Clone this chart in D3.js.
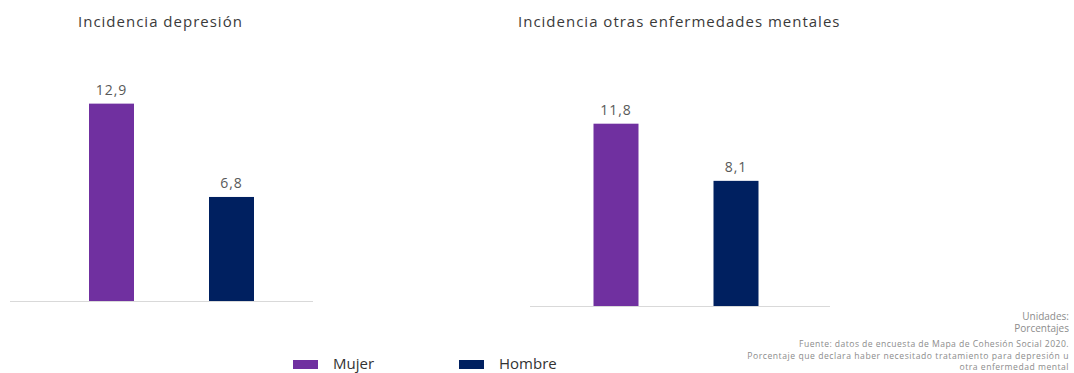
<!DOCTYPE html>
<html>
<head>
<meta charset="utf-8">
<script src="https://cdn.jsdelivr.net/npm/d3@7"></script>
<style>
  html, body { margin: 0; padding: 0; background: #ffffff; }
  svg { display: block; font-family: "Open Sans", "Noto Sans", sans-serif; }
</style>
</head>
<body>
<svg id="chart" width="1074" height="373"></svg>
<script>
const categories = ["Mujer", "Hombre"];
const panelTitles = ["Incidencia depresión", "Incidencia otras enfermedades mentales"];
const depresionValues = [12.9, 6.8];
const otrasValues = [11.8, 8.1];
const valueLabels = [["12,9", "6,8"], ["11,8", "8,1"]];
const notes = ["Unidades:", "Porcentajes", "Fuente: datos de encuesta de Mapa de Cohesión Social 2020.",
  "Porcentaje que declara haber necesitado tratamiento para depresión u", "otra enfermedad mental"];

const colors = { Mujer: "#7030A0", Hombre: "#002060" };
const svg = d3.select("#chart");

const panels = [
  { values: depresionValues, labels: valueLabels[0], title: panelTitles[0],
    band: [51.5, 291.5], axis: [10, 313], base: 301, pxPerUnit: 15.3, titleX: 78 },
  { values: otrasValues, labels: valueLabels[1], title: panelTitles[1],
    band: [556, 796], axis: [530, 830], base: 306, pxPerUnit: 15.45, titleX: 518 }
];

panels.forEach(p => {
  const x = d3.scaleBand().domain(categories).range(p.band).paddingInner(0.625).paddingOuter(0.3125);
  const y = d3.scaleLinear().domain([0, 13]).range([p.base, p.base - 13 * p.pxPerUnit]);
  const g = svg.append("g");

  g.append("text").attr("x", p.titleX).attr("y", 27)
    .attr("font-size", 15).attr("letter-spacing", 1).attr("fill", "#3a3a3a").text(p.title);

  g.append("line").attr("x1", p.axis[0]).attr("x2", p.axis[1])
    .attr("y1", y(0) + 0.5).attr("y2", y(0) + 0.5)
    .attr("stroke", "#d9d9d9").attr("stroke-width", 1);

  g.selectAll("rect.bar").data(categories).join("rect")
    .attr("class", "bar")
    .attr("x", d => x(d)).attr("width", x.bandwidth())
    .attr("y", (d, i) => y(p.values[i]))
    .attr("height", (d, i) => y(0) - y(p.values[i]))
    .attr("fill", d => colors[d]);

  g.selectAll("text.val").data(categories).join("text")
    .attr("class", "val")
    .attr("x", d => x(d) + x.bandwidth() / 2)
    .attr("y", (d, i) => y(p.values[i]) - 9)
    .attr("text-anchor", "middle").attr("font-size", 14).attr("letter-spacing", 1)
    .attr("fill", "#595959")
    .text((d, i) => p.labels[i]);
});

// legend
const legendX = d3.scaleOrdinal().domain(categories).range([293, 459]);
const lg = svg.append("g");
lg.selectAll("rect").data(categories).join("rect")
  .attr("x", d => legendX(d)).attr("y", 360).attr("width", 25).attr("height", 9)
  .attr("fill", d => colors[d]);
lg.selectAll("text").data(categories).join("text")
  .attr("x", d => legendX(d) + 40).attr("y", 369)
  .attr("font-size", 15).attr("fill", "#333").text(d => d);

// notes
const noteY = [320, 332, 347, 358.5, 370];
const noteSize = [10, 10, 8.6, 8.6, 8.6];
const noteSpacing = [0, 0, 0.45, 0.55, 0.5];
svg.append("g").selectAll("text").data(notes).join("text")
  .attr("x", 1069).attr("y", (d, i) => noteY[i])
  .attr("text-anchor", "end").attr("font-size", (d, i) => noteSize[i])
  .attr("letter-spacing", (d, i) => noteSpacing[i])
  .attr("fill", "#8c8c8c").text(d => d);
</script>
</body>
</html>
